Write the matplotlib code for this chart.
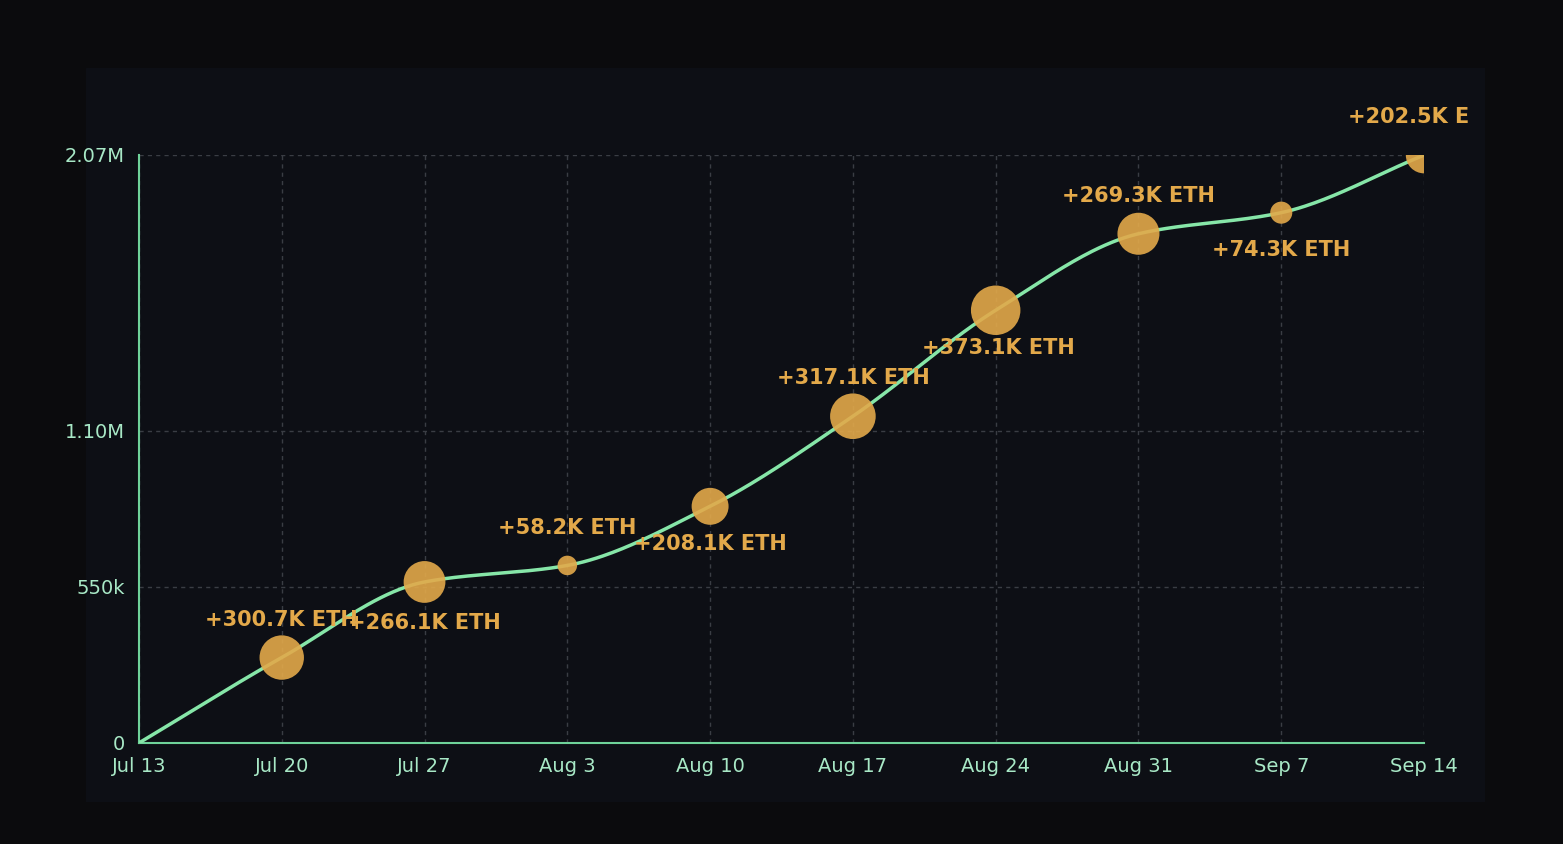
import matplotlib
matplotlib.use("Agg")
import matplotlib.pyplot as plt
import numpy as np
from matplotlib.patches import Rectangle

dates = ["Jul 13","Jul 20","Jul 27","Aug 3","Aug 10","Aug 17","Aug 24","Aug 31","Sep 7","Sep 14"]
added_k = [0, 300.7, 266.1, 58.2, 208.1, 317.1, 373.1, 269.3, 74.3, 202.5]
yticks = [0, 550000, 1100000, 2070000]
ytick_labels = ["0", "550k", "1.10M", "2.07M"]

cum = np.cumsum(added_k) * 1000
x = np.arange(len(dates))

def pchip(xs, ys, xn):
    h = np.diff(xs); d = np.diff(ys)/h
    m = np.zeros_like(ys)
    for i in range(1, len(ys)-1):
        if d[i-1]*d[i] > 0:
            m[i] = 2/(1/d[i-1]+1/d[i])
    m[0] = d[0]; m[-1] = d[-1]
    out = []
    for t in xn:
        i = min(int(t), len(xs)-2)
        s = (t-xs[i])/h[i]
        h00=2*s**3-3*s**2+1; h10=s**3-2*s**2+s; h01=-2*s**3+3*s**2; h11=s**3-s**2
        out.append(h00*ys[i]+h10*h[i]*m[i]+h01*ys[i+1]+h11*h[i]*m[i+1])
    return np.array(out)

bg = "#0b0b0d"
fig = plt.figure(figsize=(15.63, 8.44), dpi=100, facecolor=bg)
bgax = fig.add_axes([0.055, 0.05, 0.895, 0.87], zorder=-5)
bgax.set_facecolor("#0d0f15"); bgax.axis("off")
bgax.add_patch(Rectangle((0, 0), 1, 1, transform=bgax.transAxes, color="#0d0f15"))
ax = fig.add_axes([0.0889, 0.1197, 0.8222, 0.6967], zorder=1)
ax.set_facecolor("none")
green = "#86e6a8"; gold = "#e3a94a"
xs = np.linspace(0, len(x)-1, 400)
ax.plot(xs, pchip(x.astype(float), cum, xs), color=green, lw=2.5, zorder=3)
sizes = np.array(added_k)
ax.scatter(x[1:], cum[1:], s=sizes[1:]*3.4, color=gold, alpha=0.9, zorder=4, edgecolors="none")

offsets = {1:(0,20),2:(0,-22),3:(0,20),4:(0,-20),5:(0,20),6:(2,-20),7:(0,20),8:(0,-20),9:(0,20)}
for i in range(1, len(x)):
    offs = offsets[i]
    t = ax.annotate(f"+{added_k[i]:.1f}K ETH", (x[i], cum[i]), xytext=offs, textcoords="offset points",
                    ha="center", va="bottom" if offs[1] > 0 else "top",
                    color=gold, fontsize=15, fontweight="bold", zorder=5, annotation_clip=False)
    if i == 9:
        t.set_clip_path(Rectangle((0, 0), 0.94, 1, transform=fig.transFigure))

ax.set_xlim(0, len(x)-1)
ax.set_ylim(0, 2070000)
ax.set_xticks(x); ax.set_xticklabels(dates)
ax.set_yticks(yticks); ax.set_yticklabels(ytick_labels)
ax.tick_params(labelsize=14, length=0, pad=10)
for l in ax.get_xticklabels() + ax.get_yticklabels():
    l.set_color("#a8e8c6")
ax.grid(True, color="#3a3d44", ls=(0, (3, 3)), lw=1)
for s in ["top", "right"]:
    ax.spines[s].set_visible(False)
for s in ["left", "bottom"]:
    ax.spines[s].set_color("#6fd39a"); ax.spines[s].set_linewidth(1.5)
fig.savefig("out.png", dpi=100, facecolor=bg)
